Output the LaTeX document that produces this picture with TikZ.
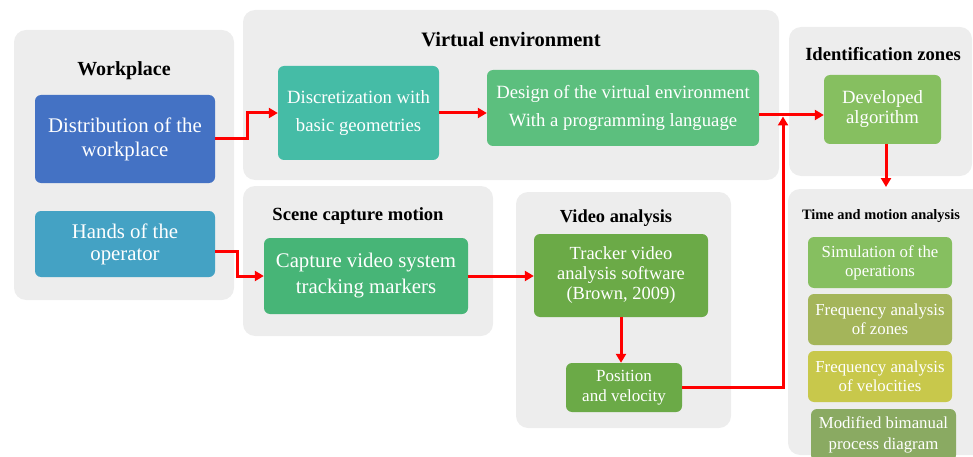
\documentclass[tikz,border=0pt]{standalone}
\usepackage{fontspec}
\setmainfont{Liberation Serif}
\usetikzlibrary{arrows.meta}

\definecolor{panelgray}{HTML}{EDEDED}
\definecolor{cdist}{HTML}{4472C4}
\definecolor{chands}{HTML}{44A2C4}
\definecolor{cdiscr}{HTML}{45BCA6}
\definecolor{cdesign}{HTML}{5CBF7E}
\definecolor{cdevel}{HTML}{86BF60}
\definecolor{ccapture}{HTML}{47B577}
\definecolor{ctracker}{HTML}{6BAA47}
\definecolor{czones}{HTML}{A4B55A}
\definecolor{cveloc}{HTML}{C8C84B}
\definecolor{cmodif}{HTML}{8AAA62}

\tikzset{
  panel/.style={fill=panelgray, rounded corners=12pt},
  proc/.style={rounded corners=6pt, text=white, align=center, inner sep=0pt},
  flow/.style={draw=red, line width=3pt, -{Triangle[length=9pt,width=10pt]}},
  ttl/.style={font=\bfseries\fontsize{#1}{#1}\selectfont}
}

\begin{document}
\begin{tikzpicture}[x=1pt,y=-1pt]
		\useasboundingbox (0,0) rectangle (973,457);
		%%%%% PANELS %%%%%
		
		\fill[panel] (14,30) rectangle (234,300);
		\fill[panel] (243,10) rectangle (779,180);
		\fill[panel] (243,186) rectangle (493,336);
		\fill[panel] (516,192) rectangle (731,428);
		\fill[panel] (789,27) rectangle (972,176);
		\fill[panel] (788,189) rectangle (985,455);
		
		\node[ttl=20] (tworkplace) at (124,71) {Workplace};
		\node[ttl=20.5] (tvirtual) at (511,40) {Virtual environment};
		\node[ttl=18.6] (tzones) at (883,54) {Identification zones};
		\node[ttl=18.6] (tscene) at (358,216) {Scene capture motion};
		\node[ttl=18.4] (tvideo) at (616,218) {Video analysis};
		\node[ttl=14.4] (ttime) at (881,216) {Time and motion analysis};
		
		%%%%% BOXES %%%%%
		
		\node[proc, fill=cdist, minimum width=180pt, minimum height=88pt, font=\fontsize{20.8}{24}\selectfont] (dist) at (125,139) {Distribution of the\\workplace};
		\node[proc, fill=chands, minimum width=180pt, minimum height=66pt, font=\fontsize{20.8}{22}\selectfont] (hands) at (125,244) {Hands of the\\operator};
		
		\node[proc, fill=cdiscr, minimum width=161pt, minimum height=94pt, font=\fontsize{18.7}{28}\selectfont] (discr) at (358.5,113) {Discretization with\\basic geometries};
		\node[proc, fill=cdesign, minimum width=272pt, minimum height=76pt, font=\fontsize{18.7}{28}\selectfont] (design) at (623,108) {Design of the virtual environment\\With a programming language};
		\node[proc, fill=cdevel, minimum width=117pt, minimum height=69pt, font=\fontsize{18.7}{20}\selectfont] (devel) at (882.5,109.5) {Developed\\algorithm};
		
		\node[proc, fill=ccapture, minimum width=204pt, minimum height=76pt, font=\fontsize{20.8}{26}\selectfont] (capture) at (366,276) {Capture video system\\tracking markers};
		\node[proc, fill=ctracker, minimum width=174pt, minimum height=83pt, font=\fontsize{18.5}{20}\selectfont] (tracker) at (621,275.5) {Tracker video\\analysis software\\(Brown, 2009)};
		\node[proc, fill=ctracker, minimum width=116pt, minimum height=49pt, font=\fontsize{17}{20}\selectfont] (posvel) at (624,387.5) {Position\\and velocity};
		
		\node[proc, fill=cdevel, minimum width=144pt, minimum height=51pt, font=\fontsize{16.8}{19}\selectfont] (simul) at (880,262.5) {Simulation of the\\operations};
		\node[proc, fill=czones, minimum width=144pt, minimum height=51pt, font=\fontsize{16.8}{19}\selectfont] (freqz) at (880,319.5) {Frequency analysis\\of zones};
		\node[proc, fill=cveloc, minimum width=144pt, minimum height=51pt, font=\fontsize{16.8}{19}\selectfont] (freqv) at (880,376.5) {Frequency analysis\\of velocities};
		\node[proc, fill=cmodif, minimum width=145pt, minimum height=52pt, font=\fontsize{16.8}{21}\selectfont] (modif) at (883.5,435) {Modified bimanual\\process diagram};
		
		%%%%% ARROWS %%%%%
		
		\coordinate (junc) at (783,115);
		\coordinate (tmtop) at (886,187);
		
		\draw[flow] (dist.east) -- ++(32,0) |- (discr.west);
		\draw[flow] (discr.east) -- (discr.east -| design.west);
		\draw[flow] (design.east |- junc) -- (junc -| devel.west);
		\draw[flow, shorten >=1.5pt] (posvel.east) -| (junc);
		\draw[flow] (devel.south -| tmtop) -- (tmtop);
		
		\draw[flow] ([yshift=-7pt]hands.east) -- ++(22,0) |- (capture.west);
		\draw[flow] (capture.east) -- (capture.east -| tracker.west);
		\draw[flow] (tracker.south) -- (tracker.south |- posvel.north);
		
		%%%%% END %%%%%
\end{tikzpicture}
\end{document}
